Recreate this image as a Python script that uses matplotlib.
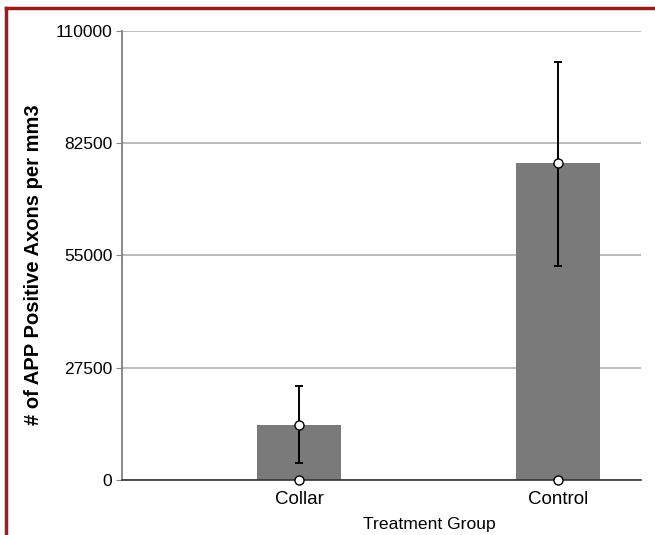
import numpy as np
import matplotlib
matplotlib.use("Agg")
import matplotlib.pyplot as plt
from matplotlib.lines import Line2D

plt.rcParams['font.family'] = ['Liberation Sans', 'DejaVu Sans']

# Data
groups = ['Collar', 'Control']
means = [13500, 77700]
err_low = [9300, 25300]
err_high = [9500, 24700]
yticks = [0, 27500, 55000, 82500, 110000]

fig = plt.figure(figsize=(6.55, 5.35), dpi=100)
ax = fig.add_axes([122 / 655, 1 - 480 / 535, (641 - 122) / 655, (480 - 31) / 535])

x = np.arange(len(groups))
ax.set_axisbelow(True)
ax.yaxis.grid(True, color='#b0b0b0', linewidth=1.2)
ax.bar(x, means, width=0.325, color='#7a7a7a', zorder=2)
ax.errorbar(x, means, yerr=[err_low, err_high], fmt='none', ecolor='black',
            elinewidth=1.4, capsize=3, capthick=1.4, zorder=3)
# open circle markers at the mean and at the baseline
ax.plot(x, means, 'o', ms=6.5, mfc='white', mec='black', mew=1, zorder=4)
ax.plot(x, [0] * len(x), 'o', ms=6.5, mfc='white', mec='black', mew=1,
        zorder=4, clip_on=False)

ax.set_xlim(-0.683, 1.32)
ax.set_ylim(0, 110000)
ax.set_yticks(yticks)
ax.set_yticklabels([str(t) for t in yticks], fontsize=12.5)
ax.set_xticks(x)
ax.set_xticklabels(groups, fontsize=13.5)
ax.tick_params(axis='x', length=0, pad=8)
ax.tick_params(axis='y', length=4, color='#888888', pad=3)

for s in ['top', 'right']:
    ax.spines[s].set_visible(False)
ax.spines['left'].set_color('#777777')
ax.spines['left'].set_linewidth(1.2)
ax.spines['bottom'].set_color('#333333')
ax.spines['bottom'].set_linewidth(1.2)

ax.set_ylabel('# of APP Positive Axons per mm3', fontsize=14.5, fontweight='bold')
ax.yaxis.set_label_coords(-0.152, 0.479)
ax.set_xlabel('Treatment Group', fontsize=12.6)
ax.xaxis.set_label_coords(0.592, -0.083)

# dark red frame visible along the top and left edges
red = '#9c1c1c'
fig.add_artist(Line2D([6 / 655, 6 / 655], [0, 1 - 8 / 535], color=red, lw=2.5,
                      transform=fig.transFigure))
fig.add_artist(Line2D([6 / 655, 1], [1 - 8 / 535, 1 - 8 / 535], color=red, lw=2.5,
                      transform=fig.transFigure))

fig.savefig('out.png', dpi=100)
